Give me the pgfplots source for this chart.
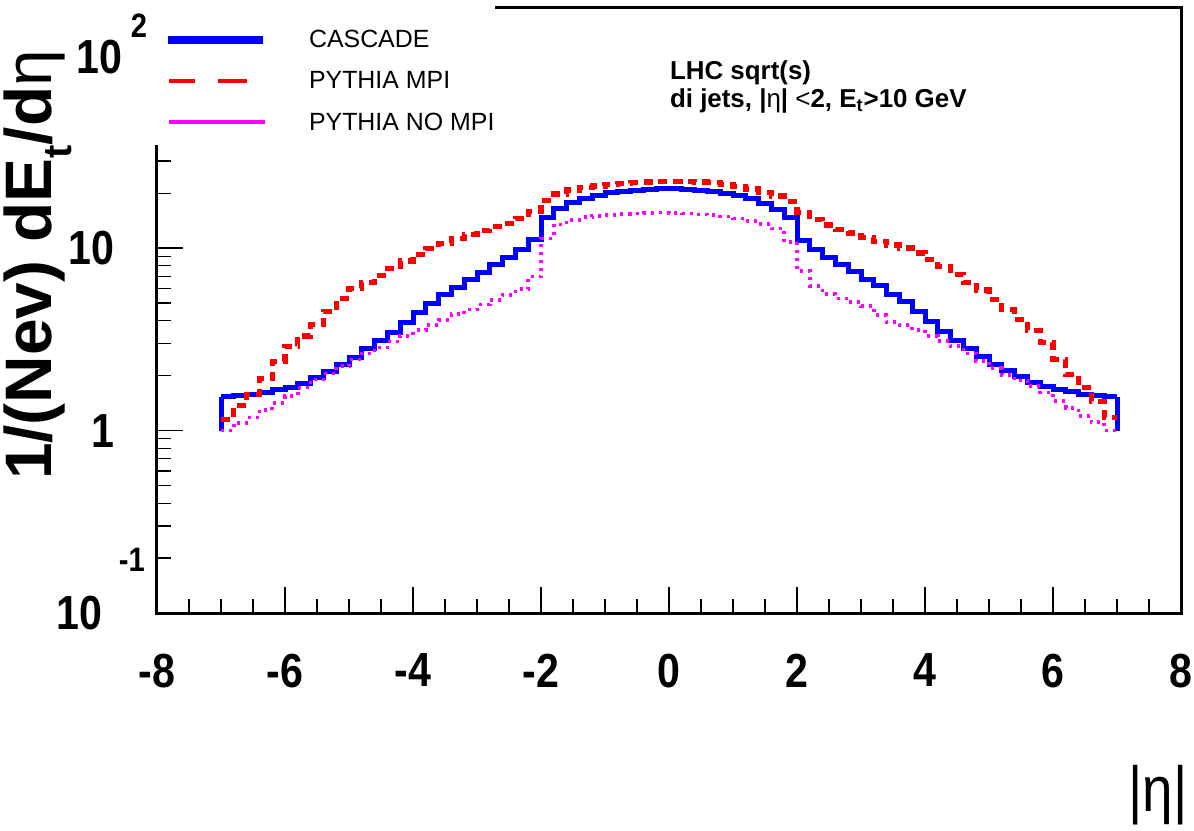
\documentclass[border=0pt]{standalone}
\usepackage{fontspec}
\setmainfont{Liberation Sans}
\newfontfamily\rootfont[FakeStretch=0.86]{Liberation Sans}
\usepackage{pgfplots}
\pgfplotsset{compat=1.18}
\definecolor{rootblue}{RGB}{0,0,255}
\definecolor{rootred}{RGB}{255,0,0}
\definecolor{rootmag}{RGB}{255,0,255}

% E_t flow per unit eta, bins of 0.2 (left edges), last row closes the histogram
\pgfplotstableread{
x    cas   mpi   nompi
-7.0 1.53  1.15  1.00
-6.8 1.56  1.37  1.10
-6.6 1.58  1.58  1.18
-6.4 1.62  1.92  1.30
-6.2 1.67  2.40  1.42
-6.0 1.73  2.90  1.55
-5.8 1.82  3.30  1.72
-5.6 1.96  3.80  1.90
-5.4 2.12  4.50  2.05
-5.2 2.29  5.30  2.25
-5.0 2.52  6.00  2.45
-4.8 2.80  6.50  2.65
-4.6 3.10  7.10  2.85
-4.4 3.45  7.70  3.07
-4.2 3.90  8.50  3.30
-4.0 4.45  9.20  3.55
-3.8 5.00  9.90  3.80
-3.6 5.55  10.6  4.05
-3.4 6.10  11.3  4.35
-3.2 6.70  11.9  4.60
-3.0 7.35  12.5  4.90
-2.8 8.10  13.1  5.20
-2.6 8.90  13.7  5.55
-2.4 9.80  14.6  5.95
-2.2 11.2  15.9  7.00
-2.0 14.8  18.3  11.3
-1.8 16.4  19.8  13.5
-1.6 17.7  20.8  14.3
-1.4 18.7  21.4  14.8
-1.2 19.5  21.9  15.0
-1.0 20.1  22.3  15.2
-0.8 20.5  22.6  15.4
-0.6 20.8  22.8  15.5
-0.4 21.0  23.0  15.6
-0.2 21.1  23.2  15.7
0.0  21.1  23.2  15.6
0.2  21.0  23.2  15.5
0.4  20.8  23.0  15.3
0.6  20.5  22.8  15.2
0.8  20.0  22.4  14.9
1.0  19.4  21.8  14.5
1.2  18.6  21.1  14.1
1.4  17.6  20.2  13.6
1.6  16.3  19.3  12.8
1.8  14.8  18.0  10.8
2.0  11.0  15.6  7.50
2.2  9.80  14.3  6.20
2.4  8.90  13.4  5.60
2.6  8.10  12.7  5.30
2.8  7.40  12.1  5.05
3.0  6.70  11.4  4.80
3.2  6.20  10.9  4.30
3.4  5.60  10.4  3.95
3.6  5.10  10.0  3.80
3.8  4.50  9.40  3.55
4.0  3.94  8.70  3.30
4.2  3.47  7.90  3.10
4.4  3.13  7.20  2.90
4.6  2.82  6.50  2.65
4.8  2.54  5.90  2.40
5.0  2.29  5.25  2.20
5.2  2.14  4.60  2.02
5.4  1.98  4.05  1.88
5.6  1.83  3.55  1.75
5.8  1.74  3.05  1.62
6.0  1.68  2.45  1.45
6.2  1.63  2.02  1.33
6.4  1.58  1.72  1.20
6.6  1.56  1.44  1.11
6.8  1.53  1.18  1.00
7.0  1.53  1.18  1.00
}\etaflow

\newcommand\tickfont{\fontsize{24}{28}\selectfont\rootfont\bfseries}
\newcommand\expo[1]{{\fontsize{17}{17}\selectfont #1}}

\begin{document}
\begin{tikzpicture}
\begin{axis}[
  name=ax, scale only axis, width=512bp, height=302.5bp,
  xmin=-8, xmax=8, ymode=log, ymin=0.1, ymax=207,
  axis line style={line width=1.5bp},
  tick pos=left, tick align=inside,
  major tick length=13bp, minor tick length=7bp,
  every tick/.append style={black, line width=0.6bp},
  xtick={-8,-6,-4,-2,0,2,4,6,8},
  xticklabels={-8,-6,-4,-2,0,2,4,6,8},
  minor x tick num=3,
  ytick={0.1,1,10,100},
  yticklabels={{10\rlap{\hspace{8.5bp}\smash{\raisebox{29bp}{\expo{-1}}}}\kern6bp},1,10,{\smash{\raisebox{-4bp}{10}}\hspace{-4bp}\rlap{\hspace{8.5bp}\smash{\raisebox{14bp}{\expo{2}}}}}},
  tick label style={font=\tickfont},
  xticklabel style={yshift=-17bp},
  yticklabel style={xshift=-18bp},
]
\addplot[const plot, rootblue, line width=2.5bp] table[x=x, y=cas] {\etaflow};
\addplot[rootblue, line width=2.5bp] coordinates {(-7,1.0) (-7,1.53)};
\addplot[rootblue, line width=2.5bp] coordinates {(7,1.53) (7,1.0)};
\addplot[const plot, rootred, line width=2.6bp, dash pattern=on 4.5bp off 3bp] table[x=x, y=mpi] {\etaflow};
\addplot[const plot, rootmag, line width=1.8bp, dash pattern=on 1.5bp off 2.5bp] table[x=x, y=nompi] {\etaflow};
\end{axis}
% overlay in reference pixel units (1 px = 0.5 bp), origin at the image top left
\begin{scope}[shift={(ax.south west)}, x=0.5bp, y=-0.5bp, shift={(-157,-613)}]
  \fill[white] (150,-4) rectangle (495,145);
  \draw[rootblue, line width=4.3bp] (168,40) -- (263,40);
  \draw[rootred, line width=2bp] (169,81) -- (195,81);
  \draw[rootred, line width=2bp] (218,81) -- (247,81);
  \draw[rootmag, line width=2bp] (169,122) -- (265,122);
  \begin{scope}[every node/.style={anchor=west, font=\fontsize{12.5}{15}\selectfont}]
    \node at (302,39) {CASCADE};
    \node at (302,80) {PYTHIA MPI};
    \node at (302,122) {PYTHIA NO MPI};
  \end{scope}
  \node[anchor=west, align=left, font=\fontsize{13}{14}\selectfont\bfseries] at (663,87)
    {LHC sqrt(s)\\di jets, |{\mdseries η}| {\mdseries <}2, E\textsubscript{t}>10 GeV};
  \node[rotate=90, font=\fontsize{33}{38}\selectfont\bfseries] at (38,265)
    {1/(Nev) dE\raisebox{-0.3em}{\fontsize{20}{20}\selectfont t}/d{\mdseries η}};
  \node[font=\fontsize{32}{36}\selectfont\rootfont] at (1158,795) {|η|};
  \pgfresetboundingbox
  \path (0,0) rectangle (1194,830);
\end{scope}
\end{tikzpicture}
\end{document}
